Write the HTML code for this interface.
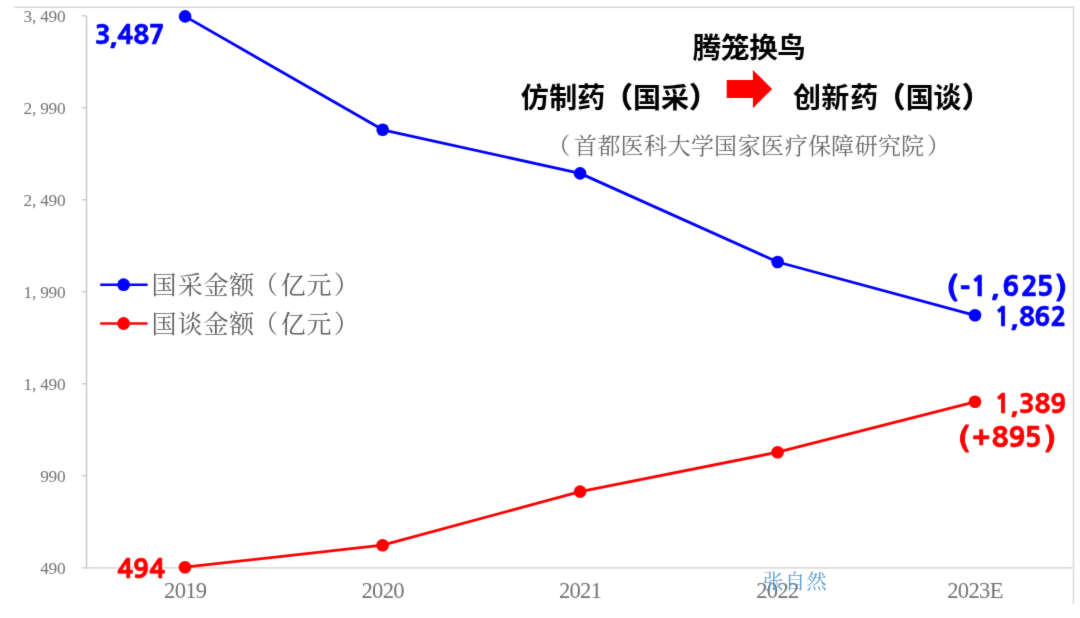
<!DOCTYPE html>
<html lang="zh-CN">
<head>
<meta charset="utf-8">
<title>腾笼换鸟 国采 国谈 金额</title>
<style>
html,body{margin:0;padding:0;background:#fff;}
body{width:1080px;height:618px;overflow:hidden;position:relative;}
svg{position:absolute;left:0;top:0;display:block;}
.ax{font-family:"Liberation Serif","Noto Serif CJK SC",serif;fill:#747474;}
.num{font-family:"NanumGothic","Liberation Sans",sans-serif;font-weight:800;stroke-width:0.5px;stroke-linejoin:round;}
.bold{font-family:"Noto Sans CJK SC","Liberation Sans",sans-serif;font-weight:700;stroke-linejoin:round;}
.song{font-family:"Noto Serif CJK SC","Liberation Serif",serif;font-weight:400;}
</style>
</head>
<body>
<svg width="1080" height="618" viewBox="0 0 1080 618">
 <defs>
  <filter id="soft" x="0" y="0" width="1080" height="618" filterUnits="userSpaceOnUse" color-interpolation-filters="sRGB">
   <feConvolveMatrix order="3" kernelMatrix="0.0113 0.0838 0.0113 0.0838 0.6193 0.0838 0.0113 0.0838 0.0113" edgeMode="duplicate"/>
  </filter>
 </defs>
 <g filter="url(#soft)">
  <rect x="0" y="0" width="1080" height="618" fill="#ffffff"/>
  <!-- frame -->
  <line x1="14" y1="7.35" x2="1074.2" y2="7.35" stroke="#d9d9d9" stroke-width="1.5"/>
  <line x1="1073.5" y1="6.6" x2="1073.5" y2="604" stroke="#d9d9d9" stroke-width="1.5"/>
  <!-- axes -->
  <line x1="81.8" y1="567.9" x2="1073.5" y2="567.9" stroke="#dddddd" stroke-width="1.9"/>
  <line x1="86.5" y1="15.7" x2="86.5" y2="568.6" stroke="#c8c8c8" stroke-width="1.5"/>
  <g stroke="#cccccc" stroke-width="1.4">
    <line x1="81.8" y1="15.7" x2="86.5" y2="15.7"/>
    <line x1="81.8" y1="107.7" x2="86.5" y2="107.7"/>
    <line x1="81.8" y1="199.7" x2="86.5" y2="199.7"/>
    <line x1="81.8" y1="291.7" x2="86.5" y2="291.7"/>
    <line x1="81.8" y1="383.7" x2="86.5" y2="383.7"/>
    <line x1="81.8" y1="475.7" x2="86.5" y2="475.7"/>
  </g>
  <!-- y labels -->
  <g class="ax" font-size="17.3" text-anchor="end" letter-spacing="-0.2">
    <text x="65.5" y="21.8">3, 490</text>
    <text x="65.5" y="113.8">2, 990</text>
    <text x="65.5" y="205.8">2, 490</text>
    <text x="65.5" y="297.8">1, 990</text>
    <text x="65.5" y="389.8">1, 490</text>
    <text x="65.5" y="481.8">990</text>
    <text x="65.5" y="573.8">490</text>
  </g>
  <!-- x labels -->
  <g class="ax" font-size="22.6" text-anchor="middle" letter-spacing="-0.7">
    <text x="185.25" y="597.9">2019</text>
    <text x="382.70" y="597.9">2020</text>
    <text x="580.10" y="597.9">2021</text>
    <text x="777.40" y="597.9">2022</text>
    <text x="975.00" y="597.9">2023E</text>
  </g>
  <!-- series -->
  <polyline points="185.1,16.4 382.7,129.8 580.1,173.4 777.6,262.0 975.0,315.3" fill="none" stroke="#0000ff" stroke-width="2.8" stroke-linejoin="round"/>
  <polyline points="185.0,567.2 382.6,545.2 580.1,491.6 777.6,452.2 975.0,401.8" fill="none" stroke="#ff0000" stroke-width="2.8" stroke-linejoin="round"/>
  <g fill="#0000ff">
    <circle cx="185.1" cy="16.4" r="6.3"/>
    <circle cx="382.7" cy="129.8" r="6.3"/>
    <circle cx="580.1" cy="173.4" r="6.3"/>
    <circle cx="777.6" cy="262.0" r="6.3"/>
    <circle cx="975.0" cy="315.3" r="6.3"/>
  </g>
  <g fill="#ff0000">
    <circle cx="185.0" cy="567.2" r="6.3"/>
    <circle cx="382.6" cy="545.2" r="6.3"/>
    <circle cx="580.1" cy="491.6" r="6.3"/>
    <circle cx="777.6" cy="452.2" r="6.3"/>
    <circle cx="975.0" cy="401.8" r="6.3"/>
  </g>
  <!-- data labels -->
  <text class="num" x="94.72 109.39 117.27 133.35 148.82" y="43.50" font-size="26.30" fill="#0000ff" stroke="#0000ff">3,487</text>
  <text class="num" x="117.27 133.09 149.17" y="577.80" font-size="26.30" fill="#ff0000" stroke="#ff0000">494</text>
  <text class="num" x="994.51 1010.58 1018.95 1034.32 1050.59" y="325.90" font-size="26.30" fill="#0000ff" stroke="#0000ff">1,862</text>
  <text class="num" x="994.51 1010.58 1018.82 1034.55 1050.18" y="412.50" font-size="26.30" fill="#ff0000" stroke="#ff0000">1,389</text>
  <text class="num" x="947.33 959.81 970.83 991.11 1002.33 1021.11 1036.51 1056.14" y="297.10 298.30 295.80 295.80 295.80 295.80 295.80 297.10" font-size="27.90" fill="#0000ff" stroke="#0000ff"><tspan stroke-width="1.1">(</tspan>-1,625<tspan stroke-width="1.1">)</tspan></text>
  <text class="num" x="958.63 972.11 991.78 1008.50 1024.61 1045.34" y="448.00 448.10 446.70 446.70 446.70 448.00" font-size="27.90" fill="#ff0000" stroke="#ff0000"><tspan stroke-width="1.1">(</tspan>+895<tspan stroke-width="1.1">)</tspan></text>
  <!-- title -->
  <text class="bold" x="692.65 720.95 749.21 777.13" y="57.95" font-size="28.50" fill="#000">腾笼换鸟</text>
  <text class="bold" x="520.74 549.16 577.34 604.46 633.10 661.10 689.54" y="108.40" font-size="28.00" fill="#000">仿制药<tspan stroke="#000" stroke-width="0.9">（</tspan>国采<tspan stroke="#000" stroke-width="0.9">）</tspan></text>
  <text class="bold" x="793.10 821.20 850.34 876.96 905.70 933.32 962.34" y="108.40" font-size="28.00" fill="#000">创新药<tspan stroke="#000" stroke-width="0.9">（</tspan>国谈<tspan stroke="#000" stroke-width="0.9">）</tspan></text>
  <polygon points="726.7,80 752.9,80 752.9,69.9 772.1,88.9 752.9,108.3 752.9,98 726.7,98" fill="#ff0000"/>
  <text class="song" x="547.23 574.12 597.40 620.45 644.09 667.49 690.88 713.94 737.68 760.86 784.72 808.00 830.94 854.80 878.09 901.02 927.07" y="153.70" font-size="23.00" fill="#686868">（首都医科大学国家医疗保障研究院）</text>
  <!-- legend -->
  <line x1="100.2" y1="284.7" x2="147.6" y2="284.7" stroke="#0000ff" stroke-width="2.4"/>
  <circle cx="123.6" cy="284.7" r="6.4" fill="#0000ff"/>
  <line x1="100.2" y1="323.5" x2="147.6" y2="323.5" stroke="#ff0000" stroke-width="2.4"/>
  <circle cx="123.6" cy="323.5" r="6.4" fill="#ff0000"/>
  <text class="song" x="151.40 177.70 203.50 229.30 252.95 280.77 306.57 333.95" y="293.90" font-size="25.00" fill="#5f5f5f">国采金额（亿元）</text>
  <text class="song" x="151.40 177.57 203.50 229.30 252.95 280.77 306.57 333.95" y="332.70" font-size="25.00" fill="#5f5f5f">国谈金额（亿元）</text>
  <!-- watermark -->
  <text class="song" x="763.04 784.64 806.25" y="588.60" font-size="20.50" fill="#3f8dc5" fill-opacity="0.85" font-weight="500">张自然</text>
 </g>
</svg>
</body>
</html>
